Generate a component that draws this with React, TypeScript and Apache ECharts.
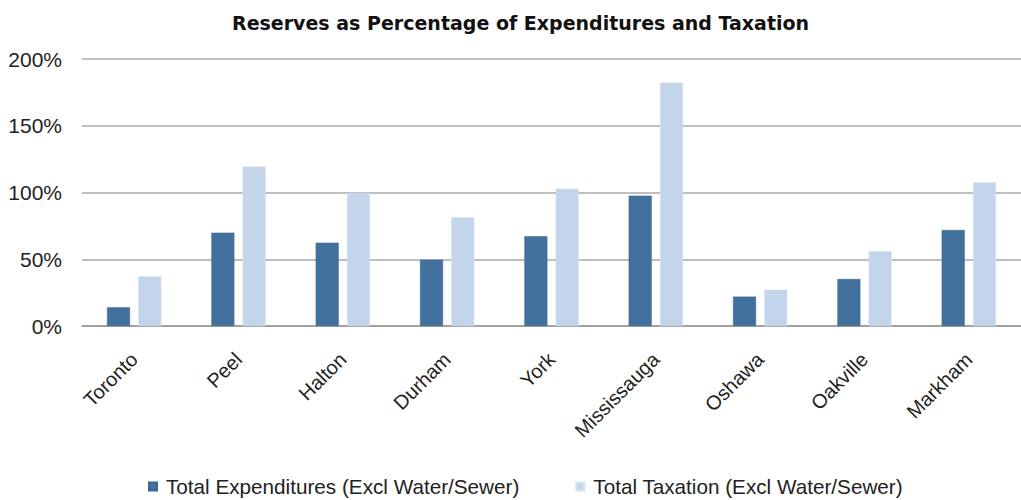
import React, { useEffect, useRef } from "react";
import * as echarts from "echarts";

const categories = ["Toronto", "Peel", "Halton", "Durham", "York", "Mississauga", "Oshawa", "Oakville", "Markham"];
const expenditures = [14.0, 69.9, 62.4, 49.7, 67.2, 97.6, 22.0, 35.2, 71.9];
const taxation = [37.2, 119.4, 99.4, 81.4, 102.9, 182.3, 27.2, 55.9, 107.6];
const seriesNames = ["Total Expenditures (Excl Water/Sewer)", "Total Taxation (Excl Water/Sewer)"];
const titleText = "Reserves as Percentage of Expenditures and Taxation";

export default function App() {
  const ref = useRef<HTMLDivElement>(null);
  useEffect(() => {
    if (!ref.current) return;
    const chart = echarts.init(ref.current, null, { renderer: "svg" });
    chart.setOption({
      animation: false,
      backgroundColor: "#ffffff",
      title: {
        text: titleText,
        left: 227,
        top: 8,
        textStyle: { fontFamily: "DejaVu Sans", fontWeight: "bold", fontSize: 19, color: "#111" },
      },
      legend: {
        top: 476,
        left: 148,
        padding: 0,
        itemWidth: 8,
        itemHeight: 8,
        itemGap: 56,
        icon: "rect",
        textStyle: { fontFamily: "Liberation Sans", fontSize: 20.7, color: "#222", padding: [0, 0, 0, 4] },
        data: seriesNames,
      },
      grid: { left: 82, right: -8.5, top: 59, bottom: 174, containLabel: false },
      xAxis: {
        type: "category",
        data: categories,
        axisLine: { lineStyle: { color: "#999", width: 1.5 } },
        axisTick: { length: 7, lineStyle: { color: "#999", width: 1.5 } },
        axisLabel: {
          rotate: 45,
          margin: 30,
          fontFamily: "Liberation Sans",
          fontSize: 20,
          color: "#222",
          interval: 0,
        },
      },
      yAxis: {
        type: "value",
        min: 0,
        max: 200,
        interval: 50,
        axisLine: { show: false },
        axisTick: { show: false },
        axisLabel: {
          formatter: "{value}%",
          margin: 20,
          fontFamily: "Liberation Sans",
          fontSize: 21,
          color: "#222",
        },
        splitLine: { lineStyle: { color: "#aaa", width: 1.5 } },
      },
      series: [
        {
          name: seriesNames[0],
          type: "bar",
          data: expenditures,
          barWidth: 23,
          barGap: "36%",
          itemStyle: { color: "#43719E", borderColor: "#3a6590", borderWidth: 0.5 },
        },
        {
          name: seriesNames[1],
          type: "bar",
          data: taxation,
          barWidth: 23,
          barGap: "36%",
          itemStyle: { color: "#C3D5EA", borderColor: "#d6e3f1", borderWidth: 0.5 },
        },
      ],
    });
    return () => chart.dispose();
  }, []);
  return (
    <div
      ref={ref}
      style={{ position: "absolute", left: 0, top: 0, width: 1021, height: 500, overflow: "hidden" }}
    />
  );
}
